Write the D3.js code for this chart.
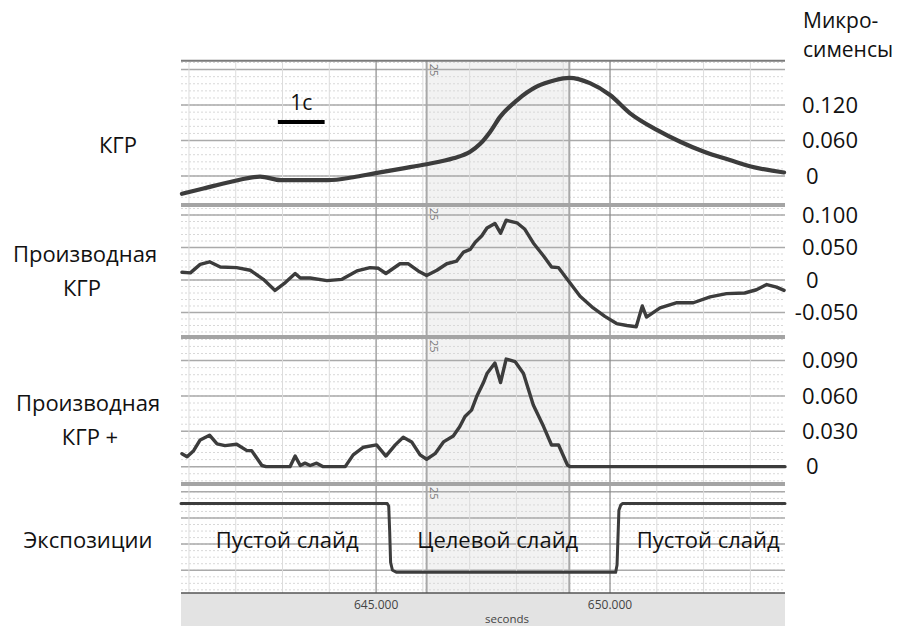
<!DOCTYPE html>
<html><head><meta charset="utf-8">
<script src="https://cdn.jsdelivr.net/npm/d3@7"></script>
<style>body{margin:0;background:#fff}svg{display:block}text{font-family:"Open Sans",sans-serif}</style>
</head><body><svg id="c" width="904" height="626"></svg>
<script>
// ---- DATA ----
const panelNames = [["КГР"], ["Производная", "КГР"], ["Производная", "КГР +"], ["Экспозиции"]];
const unitLabel = ["Микро-", "сименсы"];
const xTicks = [645, 650];
const xTickLabels = ["645.000", "650.000"];
const xAxisTitle = "seconds";
const markerTimes = [646.08, 649.13];
const markerLabel = "25";
const slideLabels = ["Пустой слайд", "Целевой слайд", "Пустой слайд"];
const slideCenters = [643.1, 647.6, 652.1];
const scaleBarLabel = "1с";

const gsrTicks = [0, 0.06, 0.12];
const derivTicks = [-0.05, 0, 0.05, 0.1];
const posTicks = [0, 0.03, 0.06, 0.09];

const gsrTime = [640.85, 641.31, 641.88, 642.52, 642.97, 643.97, 644.51, 644.99, 645.58, 646.08, 646.65, 647.01, 647.22, 647.44, 647.65, 648.01, 648.43, 648.82, 649.13, 649.57, 650.00, 650.43, 651.00, 651.50, 652.01, 652.56, 653.01, 653.72];
const gsrValue = [-0.030, -0.021, -0.010, -0.001, -0.007, -0.007, -0.002, 0.005, 0.013, 0.020, 0.030, 0.041, 0.054, 0.075, 0.100, 0.128, 0.151, 0.162, 0.166, 0.157, 0.137, 0.106, 0.078, 0.058, 0.041, 0.027, 0.016, 0.006];

const derivTime = [640.85, 641.03, 641.24, 641.44, 641.67, 642.02, 642.31, 642.59, 642.84, 643.06, 643.27, 643.38, 643.59, 643.95, 644.27, 644.59, 644.87, 645.05, 645.21, 645.51, 645.69, 645.90, 646.08, 646.30, 646.51, 646.72, 646.87, 647.01, 647.12, 647.26, 647.37, 647.54, 647.66, 647.78, 648.01, 648.18, 648.36, 648.58, 648.75, 648.90, 649.11, 649.36, 649.64, 649.89, 650.14, 650.36, 650.56, 650.69, 650.78, 651.07, 651.43, 651.78, 652.14, 652.49, 652.88, 653.13, 653.35, 653.56, 653.72];
const derivValue = [0.012, 0.011, 0.024, 0.028, 0.020, 0.019, 0.015, 0.001, -0.016, -0.004, 0.010, 0.003, 0.003, -0.001, 0.001, 0.014, 0.019, 0.018, 0.010, 0.025, 0.025, 0.014, 0.007, 0.015, 0.025, 0.029, 0.043, 0.047, 0.058, 0.068, 0.080, 0.087, 0.072, 0.092, 0.088, 0.078, 0.057, 0.037, 0.020, 0.019, -0.001, -0.025, -0.043, -0.056, -0.067, -0.070, -0.072, -0.040, -0.057, -0.043, -0.035, -0.035, -0.026, -0.021, -0.020, -0.015, -0.007, -0.011, -0.016];

const posTime = [640.85, 640.96, 641.10, 641.24, 641.44, 641.60, 641.77, 642.02, 642.24, 642.34, 642.56, 642.65, 643.16, 643.27, 643.38, 643.48, 643.59, 643.73, 643.87, 644.34, 644.51, 644.73, 645.01, 645.21, 645.41, 645.58, 645.76, 645.94, 646.08, 646.26, 646.44, 646.65, 646.79, 646.90, 647.04, 647.15, 647.29, 647.37, 647.54, 647.66, 647.78, 647.97, 648.15, 648.36, 648.58, 648.75, 648.90, 649.09, 649.15, 653.74];
const posValue = [0.011, 0.0085, 0.0136, 0.0227, 0.0267, 0.0193, 0.0179, 0.019, 0.0136, 0.0136, 0.001, 0, 0, 0.009, 0.001, 0.003, 0.001, 0.003, 0, 0, 0.010, 0.0165, 0.0185, 0.009, 0.0185, 0.025, 0.021, 0.010, 0.0063, 0.011, 0.021, 0.026, 0.034, 0.0425, 0.048, 0.0595, 0.0709, 0.079, 0.0879, 0.0714, 0.0913, 0.0892, 0.079, 0.0524, 0.034, 0.0184, 0.0184, 0.0014, 0, 0];

const expoTime = [640.83, 645.24, 645.27, 645.29, 645.31, 645.35, 645.44, 650.12, 650.15, 650.19, 650.23, 650.27, 653.74];
const expoValue = [2.55, 2.55, 2.45, 1.5, 0.3, 0.0, -0.08, -0.08, 0.2, 2.3, 2.5, 2.55, 2.55];
const expoGrid = [0, 1, 2, 3];

// ---- LAYOUT ----
const svg = d3.select("#c");
const L = 181, R = 785;
const x = d3.scaleLinear().domain([640.83, 653.74]).range([L, R]);
const fmt3 = v => d3.format(".3f")(v).replace("\u2212", "-");
const panels = [
  {top: 60.7, bot: 205, y: d3.scaleLinear().domain([-0.049, 0.195]).range([205, 60.7]), major: [0, 0.06, 0.12, 0.18], minorStep: 0.012, labels: gsrTicks},
  {top: 205, bot: 337, y: d3.scaleLinear().domain([-0.0877, 0.1154]).range([337, 205]), major: derivTicks, minorStep: 0.01, labels: derivTicks},
  {top: 337, bot: 484, y: d3.scaleLinear().domain([-0.0147, 0.110]).range([484, 337]), major: posTicks, minorStep: 0.006, labels: posTicks},
  {top: 484, bot: 593, y: d3.scaleLinear().domain([-0.87, 3.30]).range([593, 484]), major: expoGrid, minorStep: 0.25, labels: []}
];

// shaded target interval
svg.append("rect").attr("x", x(markerTimes[0])).attr("y", 61).attr("width", x(markerTimes[1]) - x(markerTimes[0])).attr("height", 532).attr("fill", "#f2f2f2");

// horizontal grids
panels.forEach(p => {
  const [d0, d1] = p.y.domain();
  const minors = d3.range(Math.ceil(d0 / p.minorStep) * p.minorStep, d1, p.minorStep);
  svg.append("g").selectAll("line").data(minors).join("line")
    .attr("x1", L).attr("x2", R).attr("y1", d => p.y(d)).attr("y2", d => p.y(d))
    .attr("stroke", "#d8d8d8").attr("stroke-width", 1).attr("stroke-dasharray", "2,2");
  svg.append("g").selectAll("line").data(p.major.filter(v => p.y(v) > p.top + 2 && p.y(v) < p.bot - 2)).join("line")
    .attr("x1", L).attr("x2", R).attr("y1", d => p.y(d)).attr("y2", d => p.y(d))
    .attr("stroke", "#aaaaaa").attr("stroke-width", 1.5);
});

// vertical grid every second
const secs = d3.range(641, 654);
svg.append("g").selectAll("line").data(secs).join("line")
  .attr("x1", d => x(d)).attr("x2", d => x(d)).attr("y1", 61).attr("y2", 593)
  .attr("stroke", d => xTicks.includes(d) ? "#8a8a8a" : "#dcdcdc").attr("stroke-width", d => xTicks.includes(d) ? 1.2 : 1);
// markers
svg.append("g").selectAll("line").data(markerTimes).join("line")
  .attr("x1", d => x(d)).attr("x2", d => x(d)).attr("y1", 61).attr("y2", 593)
  .attr("stroke", "#a8a8a8").attr("stroke-width", 2);

// panel borders
svg.append("line").attr("x1", L).attr("x2", R).attr("y1", 60.7).attr("y2", 60.7).attr("stroke", "#7a7a7a").attr("stroke-width", 2);
[205, 337, 484].forEach(yy => svg.append("line").attr("x1", L).attr("x2", R).attr("y1", yy).attr("y2", yy).attr("stroke", "#a4a4a4").attr("stroke-width", 4));

// marker labels
panels.forEach(p => {
  svg.append("text").attr("transform", `translate(${x(markerTimes[0]) + 3},${p.top + 3}) rotate(90)`)
    .attr("font-family", "DejaVu Sans").attr("font-size", 11).attr("fill", "#777").text(markerLabel);
});

// x axis band
svg.append("rect").attr("x", L).attr("y", 593).attr("width", R - L).attr("height", 33).attr("fill", "#e3e3e3");
svg.append("line").attr("x1", L).attr("x2", R).attr("y1", 593).attr("y2", 593).attr("stroke", "#555").attr("stroke-width", 1.5);
svg.append("g").selectAll("text").data(xTicks).join("text")
  .attr("x", d => x(d)).attr("y", 609).attr("text-anchor", "middle")
  .attr("font-family", "DejaVu Sans").attr("font-size", 12).attr("fill", "#444")
  .text((d, i) => xTickLabels[i]);
svg.append("text").attr("x", 507).attr("y", 623).attr("text-anchor", "middle")
  .attr("font-family", "DejaVu Sans").attr("font-size", 11.5).attr("fill", "#444").text(xAxisTitle);

// series
const mk = (ts, vs) => ts.map((t, i) => [t, vs[i]]);
const series = [
  {data: mk(gsrTime, gsrValue), p: panels[0], curve: d3.curveMonotoneX, w: 4.2},
  {data: mk(derivTime, derivValue), p: panels[1], curve: d3.curveLinear, w: 3.4},
  {data: mk(posTime, posValue), p: panels[2], curve: d3.curveLinear, w: 3.4},
  {data: mk(expoTime, expoValue), p: panels[3], curve: d3.curveLinear, w: 3}
];
series.forEach(s => {
  svg.append("path").datum(s.data)
    .attr("d", d3.line().x(d => x(d[0])).y(d => s.p.y(d[1])).curve(s.curve))
    .attr("fill", "none").attr("stroke", "#3c3c3c").attr("stroke-width", s.w)
    .attr("stroke-linejoin", "round").attr("stroke-linecap", "round");
});

// right tick labels
panels.forEach(p => {
  svg.append("g").selectAll("text").data(p.labels).join("text")
    .attr("x", d => d === 0 ? 806 : 858).attr("y", d => p.y(d)).attr("dy", "0.35em")
    .attr("text-anchor", d => d === 0 ? "start" : "end")
    .attr("font-size", 22).attr("fill", "#111")
    .text(d => d === 0 ? "0" : fmt3(d));
});
svg.append("text").attr("x", 803).attr("y", 28).attr("font-size", 21).attr("fill", "#111").text(unitLabel[0]);
svg.append("text").attr("x", 803).attr("y", 57).attr("font-size", 21).attr("fill", "#111").text(unitLabel[1]);

// left panel names
const leftPos = [[[118, 153]], [[85, 262], [82, 296]], [[88, 411], [90, 445]], [[88, 548]]];
panelNames.forEach((names, i) => {
  names.forEach((n, j) => {
    svg.append("text").attr("x", leftPos[i][j][0]).attr("y", leftPos[i][j][1]).attr("text-anchor", "middle")
      .attr("font-size", 22).attr("fill", "#111").text(n);
  });
});

// slide labels
svg.append("g").selectAll("text").data(slideLabels).join("text")
  .attr("x", (d, i) => x(slideCenters[i])).attr("y", 548).attr("text-anchor", "middle")
  .attr("font-size", 22).attr("fill", "#111").text(d => d);

// scale bar
svg.append("line").attr("x1", x(642.9)).attr("x2", x(643.9)).attr("y1", 122).attr("y2", 122).attr("stroke", "#000").attr("stroke-width", 4);
svg.append("text").attr("x", x(643.4)).attr("y", 110).attr("text-anchor", "middle").attr("font-size", 21).attr("fill", "#111").text(scaleBarLabel);
</script></body></html>
